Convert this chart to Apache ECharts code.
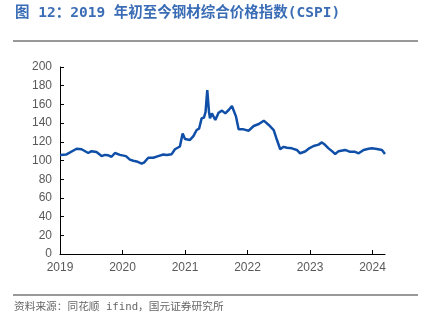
<!DOCTYPE html>
<html>
<head>
<meta charset="utf-8">
<script src="https://cdn.jsdelivr.net/npm/echarts@6/dist/echarts.min.js"></script>
<style>html,body{margin:0;padding:0;background:#fff}#c{width:424px;height:327px}</style>
</head>
<body>
<div id="c"></div>
<script>
var dates = ['2019-01-01','2019-02-08','2019-04-08','2019-05-07','2019-06-15','2019-07-04','2019-08-02','2019-09-01','2019-09-20','2019-10-10','2019-10-29','2019-11-18','2019-12-17',
'2020-01-21','2020-02-13','2020-03-04','2020-03-24','2020-04-03','2020-04-22','2020-05-06','2020-05-31','2020-06-29','2020-07-28','2020-08-27','2020-09-15','2020-10-15','2020-11-03','2020-12-02','2020-12-18',
'2021-01-01','2021-01-30','2021-02-19','2021-03-10','2021-03-24','2021-04-08','2021-04-22','2021-05-01','2021-05-11','2021-05-21','2021-05-27','2021-06-07','2021-06-27','2021-07-16','2021-08-05','2021-08-24','2021-09-13','2021-10-02','2021-10-12','2021-10-26','2021-11-10','2021-12-09',
'2022-01-08','2022-02-06','2022-03-08','2022-04-06','2022-05-05','2022-06-03','2022-06-22','2022-07-11','2022-07-31','2022-08-19','2022-09-17','2022-10-16','2022-11-04','2022-12-03','2022-12-24',
'2023-01-22','2023-02-20','2023-03-11','2023-03-31','2023-04-19','2023-05-09','2023-05-28','2023-06-17','2023-07-25','2023-08-23','2023-09-21','2023-10-12','2023-11-10','2023-12-09','2023-12-28',
'2024-01-27','2024-02-25','2024-03-14'];
var values = [106,106.5,112.6,112,108,110,109,104.7,106,105.5,104,108,106,
104.7,101,99.7,99,97,96.7,97.7,103,103,104.7,106.4,106,106.8,112,115,129,
123,122,126,132.6,134,145,146,152,175.4,152,145,150.4,143.3,151,153.3,150.4,154,158.3,159.4,146.9,133.3,133.3,
131.9,136.9,139,142.6,138,132.6,121.9,112,114.6,113.6,113,111.3,107.7,109.6,112.6,
115.5,117,119.4,116.5,113,110,107,110,111.3,109.3,109.3,107.7,111.3,112.6,113,
112.3,111.3,107];
var yearTicks = ['2019','2020','2021','2022','2023','2024'];

function toYear(s){
  var p = s.split('-').map(Number);
  var y = p[0];
  var start = Date.UTC(y,0,1), end = Date.UTC(y+1,0,1);
  return y + (Date.UTC(y,p[1]-1,p[2]) - start)/(end-start);
}
var seriesData = dates.map(function(d,i){return [toYear(d), values[i]];});

var chart = echarts.init(document.getElementById('c'), null, {renderer:'canvas'});
chart.setOption({
  animation:false,
  backgroundColor:'#fff',
  grid:{left:60, top:67, right:39, bottom:73, containLabel:false},
  xAxis:{
    type:'value', min:2019, max:toYear('2024-03-14'), interval:1,
    axisLine:{show:true, lineStyle:{color:'#000', width:1}},
    axisTick:{show:true, inside:true, length:4, lineStyle:{color:'#000'}},
    splitLine:{show:false},
    axisLabel:{color:'#595959', fontSize:12, fontFamily:'Liberation Sans, Arial', margin:8,
      showMaxLabel:false,
      formatter:function(v){ var s=String(Math.round(v)); return yearTicks.indexOf(s)>=0 && Math.abs(v-Math.round(v))<1e-6 ? s : ''; }}
  },
  yAxis:{
    type:'value', min:0, max:200, interval:20,
    axisLine:{show:true, lineStyle:{color:'#000', width:1}},
    axisTick:{show:true, inside:true, length:4, lineStyle:{color:'#000'}},
    splitLine:{show:false},
    axisLabel:{color:'#595959', fontSize:12, fontFamily:'Liberation Sans, Arial', margin:8}
  },
  series:[{
    type:'line', data:seriesData, showSymbol:false, smooth:false,
    lineStyle:{color:'#0f4fa8', width:2.5}
  }],
  graphic:[
    {type:'text', left:15, top:6, style:{text:'图 12：2019 年初至今钢材综合价格指数(CSPI)', fill:'#3a6db5', font:'bold 14.5px "DejaVu Sans Mono", "Noto Sans CJK SC"'}},
    {type:'line', shape:{x1:13,y1:41,x2:418,y2:41}, style:{stroke:'#333', lineWidth:1}},
    {type:'line', shape:{x1:13,y1:295,x2:418,y2:295}, style:{stroke:'#777', lineWidth:1.5}},
    {type:'text', left:14, top:302, style:{text:'资料来源：同花顺 ifind，国元证券研究所', fill:'#666', font:'10.7px "DejaVu Sans Mono", "Noto Sans CJK SC"'}}
  ]
});
</script>
</body>
</html>
